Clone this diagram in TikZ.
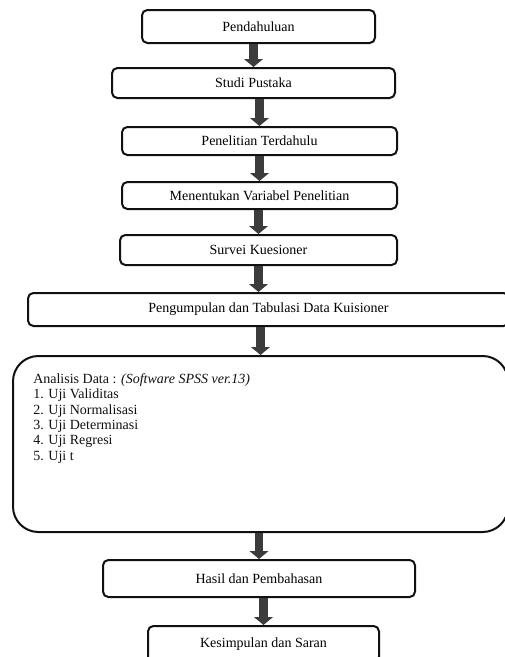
\documentclass[tikz,border=0pt]{standalone}
\usepackage{fontspec}
\setmainfont{Liberation Serif}
\usepackage{xcolor}
\usetikzlibrary{arrows.meta,positioning}
\definecolor{Ink}{HTML}{111111}
\definecolor{ArrowGray}{HTML}{3C3C3C}
\tikzset{
  stage/.style={rounded corners=4pt,draw=Ink,line width=1.5pt,fill=white,inner sep=0pt,font=\fontsize{10.5}{11.5}\selectfont},
  bigstage/.style={stage,rounded corners=19pt},
  listtext/.style={inner sep=0pt,align=left,anchor=north west,text=Ink,font=\fontsize{10.5}{11.6}\selectfont},
  flowarrow/.style={-{Triangle[width=14pt,length=6pt]},line width=6.5pt,draw=ArrowGray,fill=ArrowGray}
}

\begin{document}
\begin{tikzpicture}[x=0.75pt,y=-0.75pt]
  \useasboundingbox (0,0) rectangle (505,657);
  \clip (0,0) rectangle (505,657);
  % stages, top to bottom
  \node[stage,minimum width=233*0.75pt,minimum height=33*0.75pt] (pend) at (258.5,26.5) {Pendahuluan};
  \node[stage,minimum width=283*0.75pt,minimum height=30*0.75pt] (studi) at (253.5,83) {Studi Pustaka};
  \node[stage,minimum width=275*0.75pt,minimum height=28*0.75pt] (terdahulu) at (259.5,141) {Penelitian Terdahulu};
  \node[stage,minimum width=275*0.75pt,minimum height=27*0.75pt] (variabel) at (259.5,195.5) {Menentukan Variabel Penelitian};
  \node[stage,minimum width=277*0.75pt,minimum height=30*0.75pt] (survei) at (258.5,250) {Survei Kuesioner};
  \node[stage,minimum width=481*0.75pt,minimum height=33*0.75pt] (tabulasi) at (268.5,309.5) {Pengumpulan dan Tabulasi Data Kuisioner};
  \node[bigstage,minimum width=495*0.75pt,minimum height=176*0.75pt] (analisis) at (260.5,444) {};
  \node[listtext] (uji) at (33,373) {Analisis Data : \textit{(Software SPSS ver.13)}\\1. Uji Validitas\\2. Uji Normalisasi\\3. Uji Determinasi\\4. Uji Regresi\\5. Uji t};
  \node[stage,minimum width=312*0.75pt,minimum height=37*0.75pt] (hasil) at (259,578.5) {Hasil dan Pembahasan};
  \node[stage,minimum width=231*0.75pt,minimum height=36*0.75pt] (simpul) at (263.5,644) {Kesimpulan dan Saran};
  % arrows
  \foreach \a/\b in {pend/studi,studi/terdahulu,terdahulu/variabel,variabel/survei,tabulasi/analisis,analisis/hasil,hasil/simpul}
    \draw[flowarrow] (\b.north |- \a.south) -- (\b.north);
  \draw[flowarrow] (survei.south) -- (survei.south |- tabulasi.north);
\end{tikzpicture}
\end{document}
